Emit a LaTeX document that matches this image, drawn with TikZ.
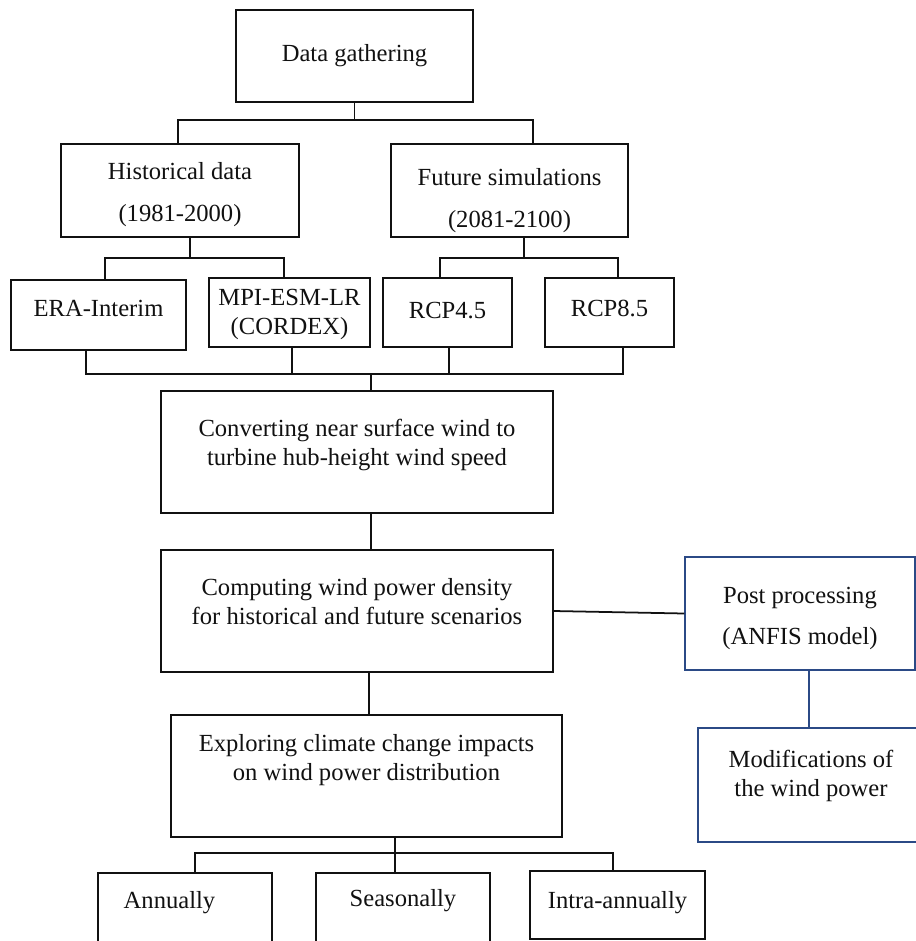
\documentclass[tikz,border=0pt]{standalone}
\usepackage{fontspec}
\setmainfont{Liberation Serif}
\usepackage{tikz}
\usetikzlibrary{calc}
\definecolor{ink}{HTML}{111111}
\definecolor{postBlue}{HTML}{2B4A86}

\begin{document}
\begin{tikzpicture}[
  x=0.02cm,y=-0.02cm,
  box/.style={draw=ink,line width=1pt,inner sep=0pt,align=center,text=ink,font=\fontsize{14pt}{16.5pt}\selectfont},
  postbox/.style={box,draw=postBlue,line width=0.8pt},
  link/.style={draw=ink,line width=1pt},
  postlink/.style={draw=postBlue,line width=1pt}
]
  \clip (0,0) rectangle (916,941);
  \fill[white] (0,0) rectangle (916,941);
  % boxes
  \node[box,minimum width=4.74cm,text height=1.02cm,text depth=0.82cm] (data) at (354.5,56) {Data gathering};
  \node[box,minimum width=4.76cm,text height=1.54cm,text depth=0.32cm] (hist) at (180,190.5) {Historical data\\[0.26cm](1981-2000)};
  \node[box,minimum width=4.74cm,text height=1.66cm,text depth=0.2cm] (fut) at (509.5,190.5) {Future simulations\\[0.26cm](2081-2100)};
  \node[box,minimum width=3.5cm,text height=0.72cm,text depth=0.68cm] (era) at (98.5,315) {ERA-Interim};
  \node[box,minimum width=3.22cm,text height=1.12cm,text depth=0.26cm] (mpi) at (289.5,312.5) {MPI-ESM-LR\\(CORDEX)};
  \node[box,minimum width=2.58cm,text height=0.8cm,text depth=0.58cm] (rcp45) at (447.5,312.5) {RCP4.5};
  \node[box,minimum width=2.58cm,text height=0.76cm,text depth=0.62cm] (rcp85) at (609.5,312.5) {RCP8.5};
  \node[box,minimum width=7.84cm,text height=1.48cm,text depth=0.96cm] (conv) at (357,452) {Converting near surface wind to\\turbine hub-height wind speed};
  \node[box,minimum width=7.84cm,text height=1.48cm,text depth=0.96cm] (comp) at (357,611) {Computing wind power density\\for historical and future scenarios};
  \node[postbox,minimum width=4.6cm,text height=1.74cm,text depth=0.52cm] (post) at (800,613.5) {Post processing\\[0.24cm](ANFIS model)};
  \node[box,minimum width=7.82cm,text height=1.3cm,text depth=1.14cm] (expl) at (366.5,776) {Exploring climate change impacts\\on wind power distribution};
  \node[postbox,minimum width=4.52cm,text height=1.36cm,text depth=0.92cm] (mod) at (811,785) {Modifications of\\the wind power};
  \node[box,minimum width=3.48cm,text height=0.7cm,text depth=0.7cm] (ann) at (185,908) {Annually\hspace*{0.62cm}};
  \node[box,minimum width=3.48cm,text height=0.66cm,text depth=0.74cm] (seas) at (403,908) {Seasonally};
  \node[box,minimum width=3.5cm,text height=0.74cm,text depth=0.62cm] (intra) at (617.5,905) {Intra-annually};
  % tree connectors
  \draw[link] (data.south) -- ++(0,17) coordinate (b1);
  \draw[link] ($(hist.north)+(-2,0)$) |- (b1) -| ($(fut.north)+(23.5,0)$);
  \draw[link] ($(hist.south)+(10,0)$) -- ++(0,20) coordinate (b2);
  \draw[link] ($(era.north)+(6.5,0)$) |- (b2) -| ($(mpi.north)+(-5.5,0)$);
  \draw[link] ($(fut.south)+(14.5,0)$) -- ++(0,20) coordinate (b3);
  \draw[link] ($(rcp45.north)+(-7.5,0)$) |- (b3) -| ($(rcp85.north)+(8.5,0)$);
  \coordinate (b4) at (371,374);
  \draw[link] ($(era.south)+(-12.5,0)$) |- (b4) -| ($(rcp85.south)+(13.5,0)$);
  \draw[link] ($(mpi.south)+(2.5,0)$) -- ++(0,27);
  \draw[link] ($(rcp45.south)+(1.5,0)$) -- ++(0,27);
  \draw[link] (b4) -- (conv.north -| b4);
  \draw[link] ($(conv.south)+(14,0)$) -- ($(comp.north)+(14,0)$);
  \draw[link] (comp.east) -- (post.west);
  \draw[link] ($(comp.south)+(12,0)$) -- ($(expl.north)+(2.5,0)$);
  \draw[postlink] ($(post.south)+(9,0)$) -- ($(mod.north)+(-2,0)$);
  \draw[link] ($(expl.south)+(28.5,0)$) -- ++(0,15) coordinate (b5);
  \draw[link] ($(ann.north)+(10,0)$) |- (b5) -| ($(intra.north)+(-4.5,0)$);
  \draw[link] (b5) -- (seas.north -| b5);
\end{tikzpicture}
\end{document}
